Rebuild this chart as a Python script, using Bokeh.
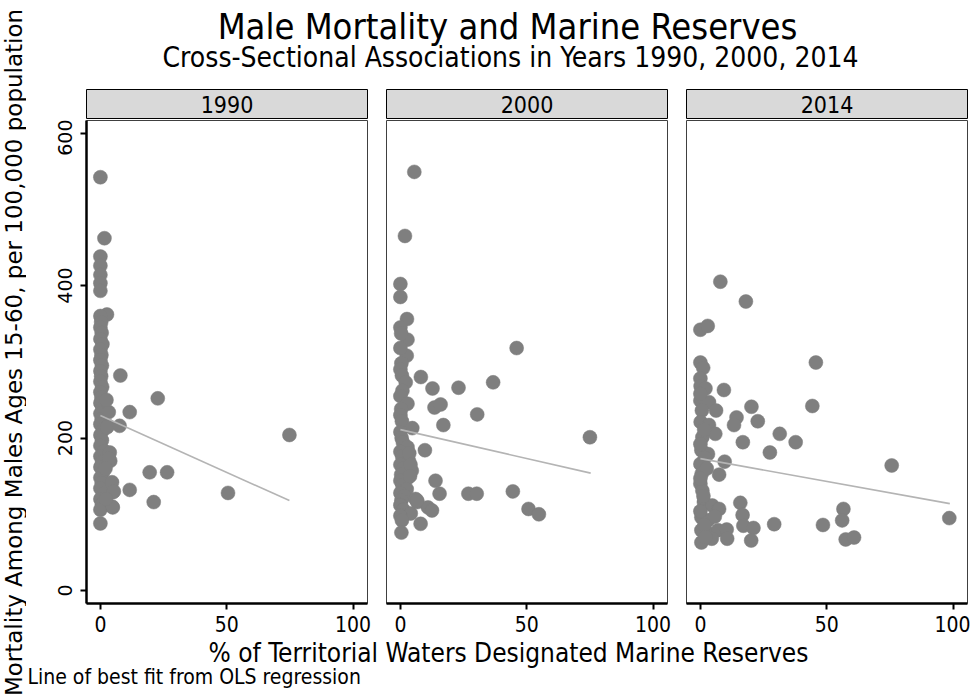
import math
from bokeh.plotting import figure
from bokeh.layouts import row, column
from bokeh.models import Range1d, Label, FixedTicker
from bokeh.embed import file_html
from bokeh.resources import INLINE

# ---------------- data ----------------
years = ["1990", "2000", "2014"]

x_1990 = [0, 1.6, 0, 0, 0, 0, 0, 2.6, 0, 0.3, 0, 0.5, 0, 0.8, 0, 0.4, 0, 0.6, 0, 0.3,
          0, 0.7, 0, 0.4, 0, 0.8, 0, 0.5, 0, 1.2, 0, 0.6, 0, 1.5, 0, 0.7, 0, 1.0, 0, 0.5,
          0, 1.3, 0, 0.6, 0, 0,
          3.3, 3.0, 2.6, 3.7, 3.9, 3.4, 4.6, 5.0, 5.3, 4.9, 4.7, 2.4, 2.0, 2.2,
          7.9, 22.7, 11.6, 7.6, 74.8, 19.5, 26.4, 11.6, 50.5, 21.1]
y_1990 = [542, 462, 438, 426, 414, 403, 393, 362, 360, 352, 345, 338, 330, 323, 316, 309, 302, 295, 288, 281,
          274, 267, 260, 253, 246, 239, 232, 225, 218, 211, 204, 197, 190, 183, 176, 169, 162, 155, 148, 141,
          134, 127, 120, 113, 106, 88,
          234, 216, 214, 181, 170, 173, 142, 129, 130, 109, 110, 250, 160, 120,
          282, 252, 234, 216, 204, 155, 155, 132, 128, 116]

x_2000 = [5.5, 1.8, 0, 0, 2.6, 0, 2.8, 0.3, 2.5, 0, 0.4, 0, 0.6, 2.1, 0.8, 0, 2.8, 0.3, 0, 0.6,
          4.7, 0, 0.5, 1.0, 2.8, 0, 0.7, 3.4, 0, 4.5, 1.2, 0.3, 3.0, 0, 0.8, 2.5, 0, 1.5, 6.0, 6.7,
          0.4, 0, 1.2, 4.1, 0, 0.6, 0.4, 3.5, 4.0, 3.8,
          46, 36.7, 8.1, 12.7, 23, 13.5, 15.9, 30.4, 17, 75, 9.7, 13.9, 15.5, 26.9, 30.2, 44.5,
          50.7, 54.8, 10.9, 12.5, 8, 6.6]
y_2000 = [549, 465, 402, 385, 356, 345, 329, 337, 308, 318, 298, 290, 282, 273, 262, 255, 245, 238, 230, 222,
          213, 208, 200, 194, 188, 182, 176, 170, 165, 157, 160, 152, 148, 144, 138, 133, 128, 124, 120, 116,
          118, 112, 106, 101, 98, 92, 76, 180, 165, 150,
          318, 273, 280, 265, 266, 240, 244, 231, 217, 201, 184, 144, 127, 127, 127, 130,
          107, 100, 109, 105, 87.5, 118]

x_2014 = [7.9, 18, 0, 2.9, 45.7, 0, 1.1, 0, 0.1, 2, 9.3, 0, 3.4, 0.6, 6.2, 20.2, 44.3,
          14.3, 13.3, 22.7, 0.1, 3.4, 31.4, 37.7, 16.8, 27.5, 75.7, 9.6, 7.4, 5.9,
          0.8, 0.4, 3.0, 0, 0.5, 0, 0.8, 1.4, 4.7, 7.4, 0.4, 3.0, 5.7, 0.4, 3.7, 7.0, 0.4, 4.5,
          10.4, 10.6, 15.8, 16.7, 17, 21, 20.1, 29.2, 48.5, 56.6, 56.1, 57.5, 60.8, 98.5,
          0, 1.5, 0, 1.8, 2.5, 0, 1.2, 0, 1.6, 2.0]
y_2014 = [405, 379, 342, 347, 299, 299, 292, 278, 268, 265, 263, 249, 247, 236, 236, 241, 242,
          227, 217, 222, 221, 217, 205.5, 194.5, 194.5, 181, 164, 169, 152, 205.5,
          201, 184, 179, 166, 153, 140, 131, 116, 111.5, 107, 96, 92, 97, 79, 74, 79, 63, 68,
          80, 68, 115, 99, 85, 82, 65.6, 87, 86, 107, 92, 67, 69.5, 95,
          258, 211, 192, 174, 160, 147, 124, 104, 86, 70]

# OLS fit lines (end points)
fit_x = {"1990": [0, 74.8], "2000": [0, 75.3], "2014": [0, 98.7]}
fit_y = {"1990": [229.5, 118], "2000": [211, 154], "2014": [173, 114]}

x_ticks = [0, 50, 100]
y_ticks = [0, 200, 400, 600]

title_text = "Male Mortality and Marine Reserves"
subtitle_text = "Cross-Sectional Associations in Years 1990, 2000, 2014"
x_title = "% of Territorial Waters Designated Marine Reserves"
y_title = "Mortality Among Males Ages 15-60, per 100,000 population"
caption_text = "Line of best fit from OLS regression"

NARROW = "DejaVu Sans Condensed, Liberation Sans"
WIDE = "DejaVu Sans"

FRAME_W = 281
PANEL_H = 483
X_RANGE = (-5.5, 105.7)
Y_RANGE = (-17, 616.4)

LEFT_W = 26
TOP_H = 88
BOTTOM_H = 59
TOTAL_H = 698


def borders(i):
    left = 86 - LEFT_W if i == 0 else 10
    right = 3 if i == 2 else 9
    return left, right


def make_strip(i, label):
    left, right = borders(i)
    s = figure(frame_width=FRAME_W, frame_height=30, x_range=Range1d(0, 1), y_range=Range1d(0, 1),
               min_border_left=left, min_border_right=right, min_border_top=1, min_border_bottom=0,
               x_axis_location=None, y_axis_location=None, toolbar_location=None,
               output_backend="svg")
    s.background_fill_color = "#d9d9d9"
    s.border_fill_color = "white"
    s.outline_line_color = "black"
    s.outline_line_width = 1
    s.xgrid.visible = False
    s.ygrid.visible = False
    s.add_layout(Label(x=0.5, y=0.5, text=label, text_align="center", text_baseline="middle",
                       text_font=NARROW, text_font_size="23px", text_color="black"))
    return s


def make_panel(i, xs, ys, fx, fy):
    left, right = borders(i)
    p = figure(frame_width=FRAME_W, frame_height=PANEL_H,
               x_range=Range1d(*X_RANGE), y_range=Range1d(*Y_RANGE),
               min_border_left=left, min_border_right=right, min_border_top=1, min_border_bottom=36,
               y_axis_location="left" if i == 0 else None,
               toolbar_location=None, output_backend="svg")
    p.background_fill_color = "white"
    p.border_fill_color = "white"
    p.outline_line_color = "#404040"
    p.outline_line_width = 1
    p.xgrid.visible = False
    p.ygrid.visible = False

    ax = p.xaxis[0]
    ax.ticker = FixedTicker(ticks=x_ticks)
    ax.major_tick_out = 6
    ax.major_tick_in = 0
    ax.minor_tick_out = 0
    ax.minor_tick_in = 0
    ax.axis_line_width = 2.5
    ax.axis_line_color = "black"
    ax.major_tick_line_width = 2
    ax.major_tick_line_color = "black"
    ax.major_label_text_font = NARROW
    ax.major_label_text_font_size = "21px"
    ax.major_label_text_color = "black"
    ax.major_label_standoff = 6

    if i == 0:
        ay = p.yaxis[0]
        ay.ticker = FixedTicker(ticks=y_ticks)
        ay.major_tick_out = 6
        ay.major_tick_in = 0
        ay.minor_tick_out = 0
        ay.minor_tick_in = 0
        ay.axis_line_width = 2.5
        ay.axis_line_color = "black"
        ay.major_tick_line_width = 2
        ay.major_tick_line_color = "black"
        ay.major_label_orientation = "vertical"
        ay.major_label_text_font = WIDE
        ay.major_label_text_font_size = "19px"
        ay.major_label_text_color = "black"
        ay.major_label_standoff = 8

    p.scatter(xs, ys, size=14, fill_color="#7f7f7f", line_color="#7f7f7f", line_width=0.5)
    p.line(fx, fy, line_color="#b4b4b4", line_width=1.6)
    return p


data = {"1990": (x_1990, y_1990), "2000": (x_2000, y_2000), "2014": (x_2014, y_2014)}

cols = []
for i, yr in enumerate(years):
    xs, ys = data[yr]
    cols.append(column(make_strip(i, yr), make_panel(i, xs, ys, fit_x[yr], fit_y[yr])))

MID_W = (86 - LEFT_W + FRAME_W + 9) + (10 + FRAME_W + 9) + (10 + FRAME_W + 3)

top = figure(width=MID_W, height=TOP_H, x_range=Range1d(0, MID_W), y_range=Range1d(0, TOP_H),
             min_border=0, x_axis_location=None, y_axis_location=None,
             toolbar_location=None, output_backend="svg")
top.outline_line_color = None
top.xgrid.visible = False
top.ygrid.visible = False
top.add_layout(Label(x=507 - LEFT_W, y=TOP_H - 26, text=title_text, text_align="center",
                     text_baseline="middle", text_font=NARROW, text_font_size="36px", text_color="black"))
top.add_layout(Label(x=510 - LEFT_W, y=TOP_H - 57, text=subtitle_text, text_align="center",
                     text_baseline="middle", text_font=NARROW, text_font_size="28px", text_color="black"))

bottom = figure(width=MID_W, height=BOTTOM_H, x_range=Range1d(0, MID_W), y_range=Range1d(0, BOTTOM_H),
                min_border=0, x_axis_location=None, y_axis_location=None,
                toolbar_location=None, output_backend="svg")
bottom.outline_line_color = None
bottom.xgrid.visible = False
bottom.ygrid.visible = False
bottom.add_layout(Label(x=508 - LEFT_W, y=BOTTOM_H - 13, text=x_title, text_align="center",
                        text_baseline="middle", text_font=NARROW, text_font_size="26px", text_color="black"))
bottom.add_layout(Label(x=1, y=BOTTOM_H - 37, text=caption_text, text_align="left",
                        text_baseline="middle", text_font=NARROW, text_font_size="21px", text_color="black"))

left = figure(width=LEFT_W, height=TOTAL_H, x_range=Range1d(0, LEFT_W), y_range=Range1d(0, TOTAL_H),
              min_border=0, x_axis_location=None, y_axis_location=None,
              toolbar_location=None, output_backend="svg")
left.outline_line_color = None
left.xgrid.visible = False
left.ygrid.visible = False
left.add_layout(Label(x=13, y=TOTAL_H - 352, text=y_title, angle=math.pi / 2, text_align="center",
                      text_baseline="middle", text_font=WIDE, text_font_size="23px", text_color="black"))

layout = row(left, column(top, row(*cols), bottom))

open("out.html", "w").write(file_html(layout, INLINE))
